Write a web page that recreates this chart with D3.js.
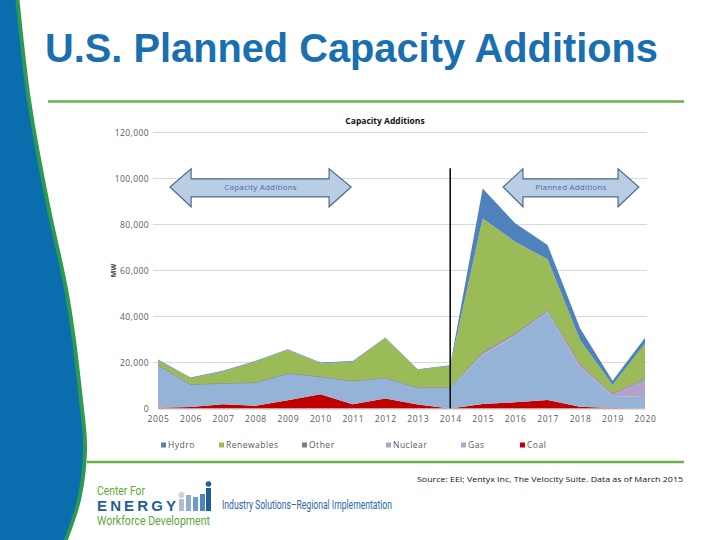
<!DOCTYPE html>
<html>
<head>
<meta charset="utf-8">
<script src="https://cdn.jsdelivr.net/npm/d3@7"></script>
<style>
  body { margin: 0; background: #fff; }
  svg { display: block; }
  .tick text { font-family: "Open Sans", sans-serif; fill: #595959; }
</style>
</head>
<body>
<div id="graf"></div>
<script>
// Datos
const years = [2005, 2006, 2007, 2008, 2009, 2010, 2011, 2012, 2013, 2014, 2015, 2016, 2017, 2018, 2019, 2020]
const coal = [300, 700, 1900, 1200, 3600, 6200, 1900, 4300, 1700, 0, 1950, 2700, 3700, 800, 200, 100]
const gas = [18500, 9700, 9000, 10000, 11600, 7600, 10000, 9000, 7300, 9000, 21300, 29000, 38400, 16700, 5200, 4900]
const nuclear = [0, 0, 0, 0, 0, 0, 0, 0, 0, 0, 1000, 600, 400, 1800, 1000, 7900]
const other = [200, 200, 200, 200, 200, 200, 200, 200, 200, 200, 400, 400, 300, 300, 200, 200]
const renewables = [2000, 2600, 5000, 8900, 10100, 5700, 8200, 17100, 7600, 9300, 58000, 39800, 22100, 10200, 3600, 15200]
const hydro = [300, 300, 300, 300, 300, 300, 300, 300, 300, 300, 13000, 8000, 6200, 5100, 1900, 2500]
const yTicks = [0, 20000, 40000, 60000, 80000, 100000, 120000]
const series = ["Coal", "Gas", "Nuclear", "Other", "Renewables", "Hydro"]
const legendOrder = ["Hydro", "Renewables", "Other", "Nuclear", "Gas", "Coal"]

const W = 720, H = 540
const svg = d3.select("#graf").append("svg").attr("width", W).attr("height", H)

// Decoración lateral
const edge = [[15, -5], [27, 100], [45, 200], [66, 300], [79, 400], [83, 450], [77, 500], [62, 545]]
const curve = d3.line().curve(d3.curveCatmullRom)
const shape = (dx) => curve(edge.map(p => [p[0] + dx, p[1]])) + `L0,545L0,-5Z`
svg.append("path").attr("d", shape(4)).attr("fill", "#2e9a4e")
svg.append("path").attr("d", shape(0)).attr("fill", "#0a6eae")

// Título
svg.append("text")
  .attr("x", 45).attr("y", 62)
  .attr("font-family", "Liberation Sans, Arial, sans-serif")
  .attr("font-weight", "bold").attr("font-size", 40)
  .attr("fill", "#1a6fb1")
  .attr("textLength", 613).attr("lengthAdjust", "spacingAndGlyphs")
  .text("U.S. Planned Capacity Additions")

svg.append("line").attr("x1", 48).attr("x2", 684).attr("y1", 101.5).attr("y2", 101.5)
  .attr("stroke", "#6ab04c").attr("stroke-width", 2.5)
svg.append("line").attr("x1", 87).attr("x2", 684).attr("y1", 462).attr("y2", 462)
  .attr("stroke", "#6ab04c").attr("stroke-width", 2.5)

// Escaladores
const x = d3.scaleLinear().domain([2005, 2020]).range([158, 645])
const y = d3.scaleLinear().domain([0, 120000]).range([408.5, 132.5])
const color = d3.scaleOrdinal().domain(series)
  .range(["#c00000", "#95b3d7", "#b3a2c7", "#7f7f7f", "#9bbb59", "#4f81bd"])

const table = years.map((yr, i) => ({
  year: yr, Coal: coal[i], Gas: gas[i], Nuclear: nuclear[i],
  Other: other[i], Renewables: renewables[i], Hydro: hydro[i]
}))
const stacked = d3.stack().keys(series)(table)

// Grilla
svg.append("g")
  .selectAll("line")
  .data(yTicks.slice(1))
  .join("line")
  .attr("x1", 153).attr("x2", 647)
  .attr("y1", d => y(d)).attr("y2", d => y(d))
  .attr("stroke", "#d9d9d9").attr("stroke-width", 1)

// Áreas
const area = d3.area()
  .x(d => x(d.data.year))
  .y0(d => y(d[0]))
  .y1(d => y(d[1]))
svg.append("g")
  .selectAll("path")
  .data(stacked)
  .join("path")
  .attr("d", area)
  .attr("fill", d => color(d.key))
  .attr("stroke", d => d.key === "Other" ? "#8c8c8c" : "none")
  .attr("stroke-width", 0.6)

// Ejes
const yAxis = d3.axisLeft(y).tickValues(yTicks).tickFormat(d3.format(",")).tickSize(0).tickPadding(4)
const yAxisGroup = svg.append("g").attr("transform", "translate(153,0)").call(yAxis)
yAxisGroup.select(".domain").remove()
yAxisGroup.selectAll("text").attr("font-size", 8.5).attr("letter-spacing", 0.4)

const xAxis = d3.axisBottom(x).tickValues(years).tickFormat(d3.format("d")).tickSize(0).tickPadding(7)
const xAxisGroup = svg.append("g").attr("transform", `translate(0,${y(0)})`).call(xAxis)
xAxisGroup.select(".domain").attr("stroke", "#bfbfbf")
xAxisGroup.selectAll("text").attr("font-size", 8.5).attr("letter-spacing", 0.6)

svg.append("text")
  .attr("transform", `translate(116,${y(60000)}) rotate(-90)`)
  .attr("text-anchor", "middle")
  .attr("font-family", "Open Sans, sans-serif").attr("font-weight", "bold")
  .attr("font-size", 7).attr("fill", "#404040")
  .text("MW")

svg.append("text")
  .attr("x", 385).attr("y", 124)
  .attr("text-anchor", "middle")
  .attr("font-family", "Open Sans, sans-serif").attr("font-weight", "bold")
  .attr("font-size", 8.5).attr("fill", "#111")
  .text("Capacity Additions")

// Línea 2014
svg.append("line")
  .attr("x1", x(2014)).attr("x2", x(2014))
  .attr("y1", y(104500)).attr("y2", y(0))
  .attr("stroke", "#111").attr("stroke-width", 1.6)

// Flechas
const arrows = [
  { label: "Capacity Additions", tipL: 2005.37, inL: 2006.02, inR: 2010.27, tipR: 2010.95 },
  { label: "Planned Additions", tipL: 2015.63, inL: 2016.24, inR: 2019.17, tipR: 2019.81 },
]
const arrowPath = (a) => {
  const yc = y(96300), yt = y(99800), yb = y(92000), ht = y(104200), hb = y(87700)
  return `M${x(a.tipL)},${yc}L${x(a.inL)},${ht}L${x(a.inL)},${yt}L${x(a.inR)},${yt}L${x(a.inR)},${ht}` +
    `L${x(a.tipR)},${yc}L${x(a.inR)},${hb}L${x(a.inR)},${yb}L${x(a.inL)},${yb}L${x(a.inL)},${hb}Z`
}
const ag = svg.append("g").selectAll("g").data(arrows).join("g")
ag.append("path").attr("d", arrowPath)
  .attr("fill", "#b9cde5").attr("stroke", "#4f6a8f").attr("stroke-width", 1.2)
ag.append("text")
  .attr("x", d => (x(d.tipL) + x(d.tipR)) / 2).attr("y", y(96300) + 3)
  .attr("text-anchor", "middle")
  .attr("font-family", "Open Sans, sans-serif").attr("font-size", 8)
  .attr("letter-spacing", 0.2)
  .attr("fill", "#4a6fa5")
  .text(d => d.label)

// Leyenda
const legendX = [161, 219, 302, 386, 461, 520]
const lg = svg.append("g").selectAll("g").data(legendOrder).join("g")
  .attr("transform", (d, i) => `translate(${legendX[i]},445)`)
lg.append("rect").attr("x", 0).attr("y", -2.5).attr("width", 5).attr("height", 5)
  .attr("fill", d => color(d))
lg.append("text").attr("x", 7).attr("y", 3)
  .attr("font-family", "Open Sans, sans-serif").attr("font-size", 8.5).attr("fill", "#595959")
  .attr("letter-spacing", 0.5)
  .text(d => d)

// Fuente
svg.append("text")
  .attr("x", 417).attr("y", 482)
  .attr("font-family", "Open Sans, sans-serif").attr("font-size", 8).attr("fill", "#111")
  .attr("textLength", 266).attr("lengthAdjust", "spacingAndGlyphs")
  .text("Source: EEI; Ventyx Inc, The Velocity Suite. Data as of March 2015")

// Logo
const narrow = "Liberation Sans Narrow, Roboto, sans-serif"
svg.append("text").attr("x", 97).attr("y", 495)
  .attr("font-family", narrow).attr("font-size", 13).attr("fill", "#5ea640")
  .attr("textLength", 48).attr("lengthAdjust", "spacingAndGlyphs")
  .text("Center For")
svg.append("text").attr("x", 97).attr("y", 511)
  .attr("font-family", "Liberation Sans, sans-serif").attr("font-weight", "bold")
  .attr("font-size", 15).attr("fill", "#1f5f95")
  .attr("textLength", 79).attr("lengthAdjust", "spacing")
  .text("ENERGY")
svg.append("text").attr("x", 97).attr("y", 525)
  .attr("font-family", narrow).attr("font-size", 13).attr("fill", "#5ea640")
  .attr("textLength", 113).attr("lengthAdjust", "spacingAndGlyphs")
  .text("Workforce Development")
const icon = svg.append("g")
const bars = [[179, 499, "#aebfd0"], [186, 495, "#8fb0d0"], [193, 497, "#6f9bc6"], [200, 494, "#4f86bd"], [206, 488, "#1f5f95"]]
icon.selectAll("rect").data(bars).join("rect")
  .attr("x", d => d[0]).attr("y", d => d[1]).attr("width", 5).attr("height", d => 511 - d[1])
  .attr("fill", d => d[2])
icon.append("circle").attr("cx", 208.5).attr("cy", 484).attr("r", 2.8).attr("fill", "#1f5f95")
icon.append("circle").attr("cx", 181.5).attr("cy", 495).attr("r", 3).attr("fill", "#c9d3dc")
svg.append("text").attr("x", 222).attr("y", 509)
  .attr("font-family", narrow).attr("font-size", 12).attr("fill", "#2a68a8")
  .attr("textLength", 170).attr("lengthAdjust", "spacingAndGlyphs")
  .text("Industry Solutions–Regional Implementation")
</script>
</body>
</html>
